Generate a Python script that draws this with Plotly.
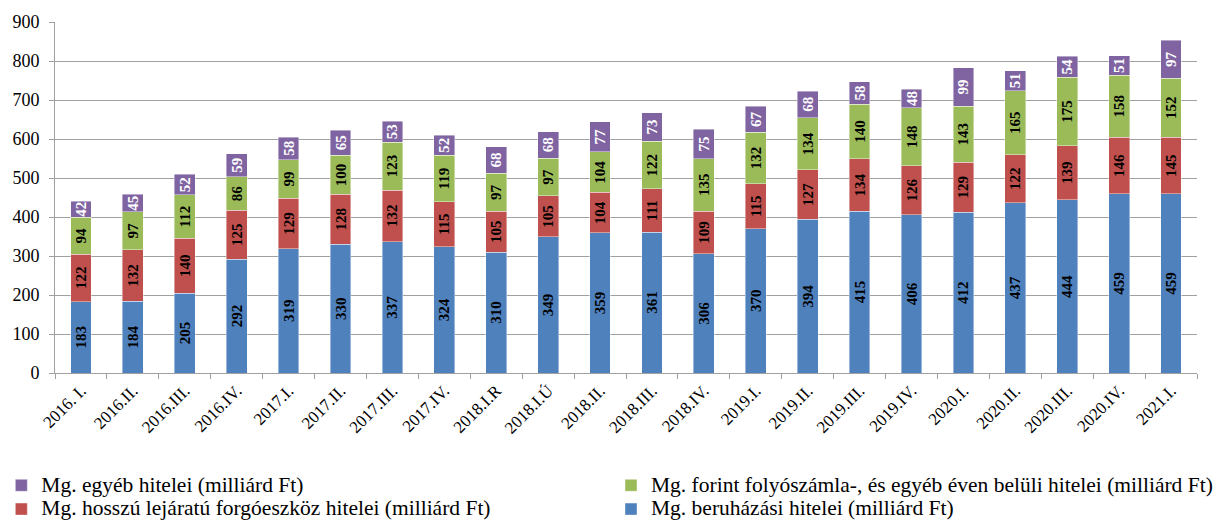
import plotly.graph_objects as go

categories = ["2016. I.", "2016.II.", "2016.III.", "2016.IV.", "2017.I.", "2017.II.",
              "2017.III.", "2017.IV.", "2018.I.R", "2018.I.Ú", "2018.II.", "2018.III.",
              "2018.IV.", "2019.I.", "2019.II.", "2019.III.", "2019.IV.", "2020.I.",
              "2020.II.", "2020.III.", "2020.IV.", "2021.I."]

beruhazasi = [183, 184, 205, 292, 319, 330, 337, 324, 310, 349, 359, 361, 306, 370, 394, 415, 406, 412, 437, 444, 459, 459]
forgoeszkoz = [122, 132, 140, 125, 129, 128, 132, 115, 105, 105, 104, 111, 109, 115, 127, 134, 126, 129, 122, 139, 146, 145]
folyoszamla = [94, 97, 112, 86, 99, 100, 123, 119, 97, 97, 104, 122, 135, 132, 134, 140, 148, 143, 165, 175, 158, 152]
egyeb = [42, 45, 52, 59, 58, 65, 53, 52, 68, 68, 77, 73, 75, 67, 68, 58, 48, 99, 51, 54, 51, 97]

y_ticks = [0, 100, 200, 300, 400, 500, 600, 700, 800, 900]

series = [
    ("Mg. beruházási hitelei (milliárd Ft)", beruhazasi, "#4F81BD", "black", "legend2"),
    ("Mg. hosszú lejáratú forgóeszköz hitelei (milliárd Ft)", forgoeszkoz, "#C0504D", "black", "legend"),
    ("Mg. forint folyószámla-, és egyéb éven belüli hitelei (milliárd Ft)", folyoszamla, "#9BBB59", "black", "legend2"),
    ("Mg. egyéb hitelei (milliárd Ft)", egyeb, "#8064A2", "white", "legend"),
]

FONT = "Liberation Serif"

fig = go.Figure()
for name, vals, color, tcolor, leg in series:
    fig.add_trace(go.Bar(
        x=categories, y=vals,
        name='<span style="font-size:21.5px">' + name + '</span>',
        marker=dict(color=color, line=dict(color="rgba(255,255,255,0.6)", width=0.7)),
        text=[str(v) for v in vals],
        textposition="inside", insidetextanchor="middle",
        textangle=-90, constraintext="none",
        textfont=dict(family=FONT, size=15, color=tcolor, weight="bold"),
        legend=leg,
        hoverinfo="skip",
    ))

fig.update_layout(
    barmode="stack",
    bargap=0.6,
    width=1218, height=528,
    margin=dict(l=55, r=0, t=22, b=155),
    paper_bgcolor="white", plot_bgcolor="white",
    font=dict(family=FONT, color="black"),
    xaxis=dict(
        type="category",
        tickangle=-45,
        tickfont=dict(family=FONT, size=17, color="black"),
        tickson="boundaries",
        ticks="outside", ticklen=5, tickcolor="#A0A0A0",
        showline=True, linecolor="#A0A0A0", linewidth=1,
        showgrid=False,
    ),
    yaxis=dict(
        range=[0, 900],
        tickvals=y_ticks,
        tickfont=dict(family=FONT, size=18, color="black"),
        ticks="outside", ticklen=5, tickcolor="#A0A0A0",
        ticklabelstandoff=6,
        showline=True, linecolor="#A0A0A0", linewidth=1,
        showgrid=True, gridcolor="#A0A0A0", gridwidth=1,
        zeroline=False,
    ),
    legend=dict(
        x=-0.047, xanchor="left", y=-0.437, yanchor="bottom",
        orientation="v", traceorder="reversed",
        font=dict(family=FONT, size=16, color="black"),
        bgcolor="rgba(0,0,0,0)", tracegroupgap=0,
    ),
    legend2=dict(
        x=0.487, xanchor="left", y=-0.437, yanchor="bottom",
        orientation="v", traceorder="reversed",
        font=dict(family=FONT, size=16, color="black"),
        bgcolor="rgba(0,0,0,0)", tracegroupgap=0,
    ),
)

fig.write_html("out.html", config={"displayModeBar": False},
               post_script="document.body.style.margin='0';document.body.style.overflow='hidden';")
